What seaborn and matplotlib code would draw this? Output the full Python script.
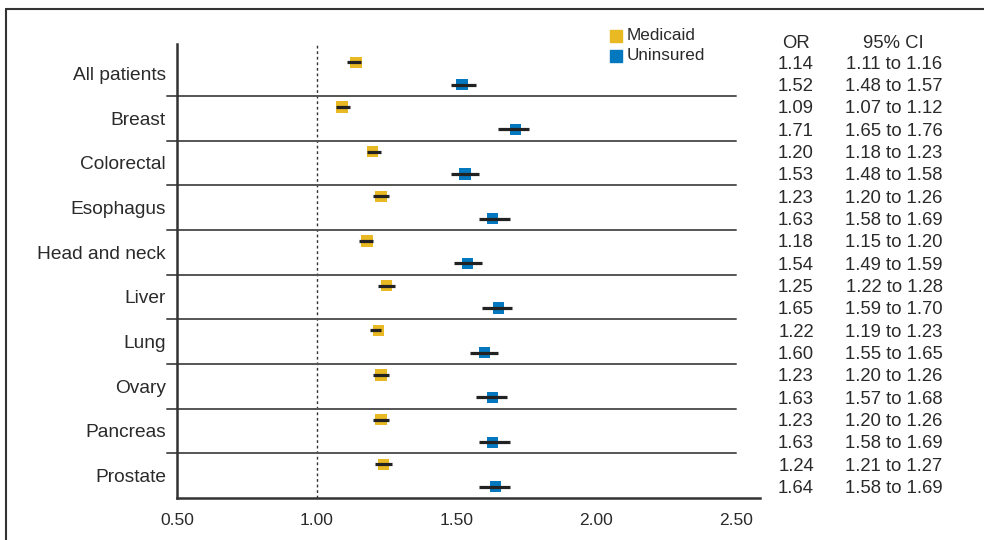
import pandas as pd
import numpy as np
import matplotlib
matplotlib.use('Agg')
import matplotlib.pyplot as plt
import seaborn as sb

# DATA
# ====
sites = ['All patients', 'Breast', 'Colorectal', 'Esophagus', 'Head and neck',
         'Liver', 'Lung', 'Ovary', 'Pancreas', 'Prostate']
medicaid_or = [1.14, 1.09, 1.20, 1.23, 1.18, 1.25, 1.22, 1.23, 1.23, 1.24]
medicaid_lo = [1.11, 1.07, 1.18, 1.20, 1.15, 1.22, 1.19, 1.20, 1.20, 1.21]
medicaid_hi = [1.16, 1.12, 1.23, 1.26, 1.20, 1.28, 1.23, 1.26, 1.26, 1.27]
unins_or = [1.52, 1.71, 1.53, 1.63, 1.54, 1.65, 1.60, 1.63, 1.63, 1.64]
unins_lo = [1.48, 1.65, 1.48, 1.58, 1.49, 1.59, 1.55, 1.57, 1.58, 1.58]
unins_hi = [1.57, 1.76, 1.58, 1.69, 1.59, 1.70, 1.65, 1.68, 1.69, 1.69]
groups = ['Medicaid', 'Uninsured']
xticks = [0.50, 1.00, 1.50, 2.00, 2.50]

colours = {'Medicaid': '#E8B923', 'Uninsured': '#0478BE'}

# long table for seaborn
rows = []
for i, s in enumerate(sites):
    rows.append([s, 'Medicaid', i + 0.25, medicaid_or[i], medicaid_lo[i], medicaid_hi[i]])
    rows.append([s, 'Uninsured', i + 0.75, unins_or[i], unins_lo[i], unins_hi[i]])
df = pd.DataFrame(rows, columns=['site', 'group', 'ypos', 'OR', 'lo', 'hi'])

sb.set_style('white')
plt.rcParams['font.family'] = ['Liberation Sans', 'DejaVu Sans']
txtc = '#2a2a2a'

fig = plt.figure(figsize=(9.84, 5.40), dpi=100)
ax = fig.add_axes([177/984, 1 - 498/540, (760 - 177)/984, (498 - 44)/540])

# CI lines on top of squares
sb.scatterplot(data=df, x='OR', y='ypos', hue='group', palette=colours,
               marker='s', s=66, linewidth=0, ax=ax, legend=False, zorder=3)
ax.hlines(df['ypos'], df['lo'], df['hi'], color='#222222', lw=2.3, zorder=4)

# reference line at OR = 1
ax.axvline(1.0, color='#333333', lw=1.0, ls=(0, (2, 2)), zorder=1)

# row separators
for k in range(1, len(sites)):
    ax.plot([0.464, 2.5], [k, k], color='#555555', lw=1.4, clip_on=False, zorder=2)

x0 = 0.5
x1 = x0 + (760 - 177) / 279.5
ax.set_xlim(x0, x1)
ax.set_ylim(len(sites), -0.16)
ax.set_xticks(xticks)
ax.set_xticklabels(['%.2f' % v for v in xticks], fontsize=12.5, color=txtc)
ax.set_yticks(np.arange(len(sites)) + 0.5)
ax.set_yticklabels(sites, fontsize=13.8, color=txtc)
ax.tick_params(axis='x', direction='out', length=5, width=1.5, color='#333333', pad=6)
ax.tick_params(axis='y', length=0, pad=8)
ax.set_xlabel('')
ax.set_ylabel('')
for sp in ['top', 'right']:
    ax.spines[sp].set_visible(False)
for sp in ['left', 'bottom']:
    ax.spines[sp].set_color('#333333')
    ax.spines[sp].set_linewidth(1.8)

# legend
for j, g in enumerate(groups):
    yy = 1 - (36 + j * 20) / 540
    fig.patches.append(plt.Rectangle((610/984, yy - 6/540), 12/984, 12/540,
                                     transform=fig.transFigure, color=colours[g]))
    fig.text(627/984, yy + 1/540, g, fontsize=12.3, color=txtc, va='center', ha='left')

# table on right
tfs = 13.3
fig.text(796/984, 1 - 43/540, 'OR', fontsize=tfs, color=txtc, ha='center', va='center')
fig.text(893/984, 1 - 43/540, '95% CI', fontsize=tfs, color=txtc, ha='center', va='center')
trans = matplotlib.transforms.blended_transform_factory(fig.transFigure, ax.transData)
for _, r in df.iterrows():
    ax.text(796/984, r['ypos'] + 0.04, '%.2f' % r['OR'], transform=trans, fontsize=tfs,
            color=txtc, ha='center', va='center', clip_on=False)
    ax.text(894/984, r['ypos'] + 0.04, '%.2f to %.2f' % (r['lo'], r['hi']), transform=trans,
            fontsize=tfs, color=txtc, ha='center', va='center', clip_on=False)

# frame edge
fig.add_artist(plt.Line2D([6/984, 6/984], [0, 1 - 9/540], transform=fig.transFigure,
                          color='#333333', lw=1.5))
fig.add_artist(plt.Line2D([6/984, 1], [1 - 9/540, 1 - 9/540], transform=fig.transFigure,
                          color='#333333', lw=1.5))

fig.savefig('out.png', dpi=100)
